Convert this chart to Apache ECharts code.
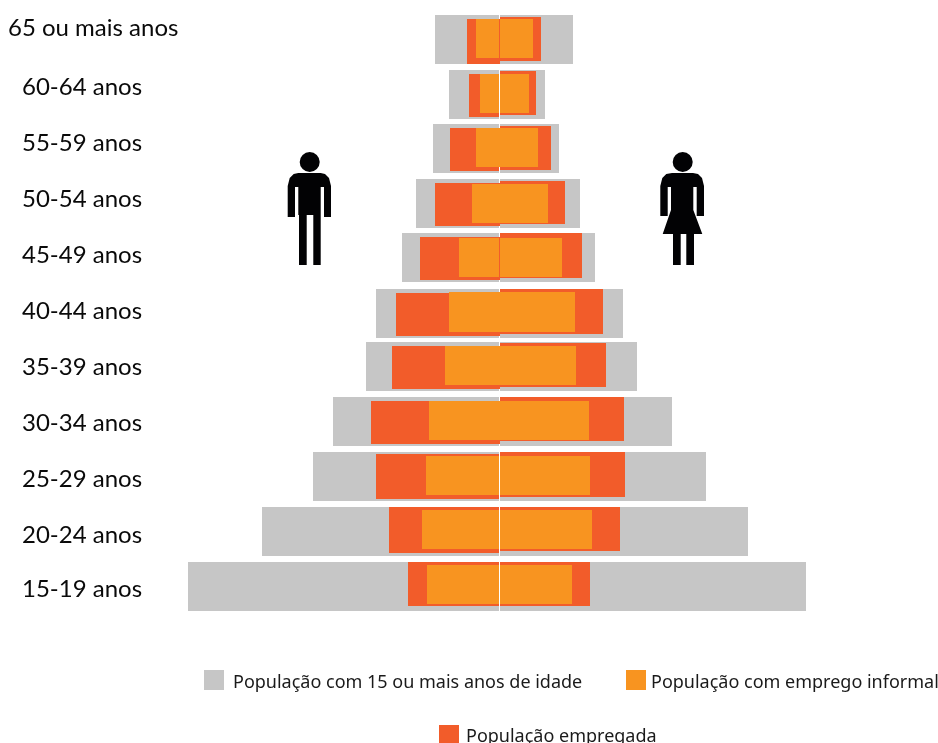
<!DOCTYPE html>
<html>
<head>
<meta charset="utf-8">
<style>html,body{margin:0;padding:0;background:#fff;overflow:hidden}#c{width:938px;height:743px}</style>
<script src="https://cdn.jsdelivr.net/npm/echarts@6/dist/echarts.min.js"></script>
</head>
<body>
<div id="c"></div>
<script>
// ---- data (arbitrary population units) ----
const categories = ['65 ou mais anos','60-64 anos','55-59 anos','50-54 anos','45-49 anos','40-44 anos','35-39 anos','30-34 anos','25-29 anos','20-24 anos','15-19 anos'];
const menPopulation   = [65,51,67,84,98,124,134,167,187,238,312];
const womenPopulation = [73,45,59,80,95,123,137,172,206,248,306];
const menEmployed     = [33,31,50,65,80,104,108,129,124,111,92];
const womenEmployed   = [41,36,51,65,82,103,106,124,125,120,90];
const menInformal     = [24,20,24,28,41,51,55,71,74,78,73];
const womenInformal   = [33,29,38,48,62,75,76,89,90,92,72];
const seriesNames = ['População com 15 ou mais anos de idade','População com emprego informal','População empregada'];

// ---- drawing details (row nudges, not data) ----
const GRAY='#C6C6C6', RED='#F25C2A', ORANGE='#F89420', BLACK='#020204';
const ROW_H = 49;
const rowNudge = [0,.3,-.4,-.1,-.8,.5,-1.2,-.9,-.6,-.3,0];
const menEmpBand = [[4,49],[4,47],[4,47],[4,47],[4,47],[4,47],[4,47],[4,47],[2,47],[0,46],[0,44]];
const womenEmpBand = [[2,46],[1,45],[2,46],[2,45],[0,45],[0,45],[1,45],[0,44],[0,45],[0,44],[0,44]];
const informalBand = [[4,43],[4,43],[4,43],[5,44],[5,44],[3,43],[4,43],[4,43],[4,43],[3,42],[3,42]];
const fullBand = categories.map(()=>[0,ROW_H]);
const empGap = [0,1,1,0,0,0,0,0,1,1,1];
const infGap = [1,1,0,0,1,0,0,0,1,1,1];
const allGap = categories.map(()=>1);
const labelLeft = [8,22,22,22,22,22,22,22,22,22,22];
const labelNudge = [-11.5,-6.5,-5.5,-4,-3,-2,0,1,2,3,3];

function rows(values, side){ return values.map((v,i)=>[side*v, categories[i]]); }
function bars(name, color, values, side, band, gap, z){
  return {
    type:'custom', name, coordinateSystem:'cartesian2d', clip:false, z,
    encode:{x:0,y:1}, itemStyle:{color}, silent:true,
    data: rows(values, side),
    renderItem(params, api){
      const i = api.value(1);
      const end = api.coord([api.value(0), i]);
      const zero = api.coord([0, i]);
      const top = Math.round(end[1] - ROW_H/2 + rowNudge[i]);
      const inner = side < 0 ? zero[0] - gap[i] : zero[0];
      const x0 = Math.min(inner, end[0]), x1 = Math.max(inner, end[0]);
      return {type:'rect',
        shape:{x:x0, y:top+band[i][0], width:x1-x0, height:band[i][1]-band[i][0]},
        style:{fill:color}};
    }
  };
}
const labelSeries = {
  type:'custom', name:'labels', coordinateSystem:'cartesian2d', clip:false, z:9, silent:true,
  encode:{x:0,y:1},
  data: rows(categories.map(()=>0), 1),
  renderItem(params, api){
    const i = api.value(1);
    const p = api.coord([0, i]);
    return {type:'text', style:{text:categories[i], x:labelLeft[i], y:p[1]+labelNudge[i],
      font:'400 24px Lato', fill:'#0a0a0a', textAlign:'left', textVerticalAlign:'middle'}};
  }
};
function legendAt(name, left, top, pad){
  return {show:true, data:[{name, icon:'rect'}], left, top, orient:'horizontal', padding:0,
    itemWidth:20, itemHeight:20, selectedMode:false,
    formatter:'{t|{name}}',
    textStyle:{rich:{t:{fontFamily:'"Noto Sans"', fontSize:18, color:'#1a1a1a', padding:pad}}}};
}
const manPoints = [[298.3,173],[320.7,173],[325,174],[329,178],[331,186],[331,217],[324,217],[324,187],[320.7,187],[320.7,265],[313.3,265],[313.3,215],[306.7,215],[306.7,265],[299,265],[299,215],[298.3,215],[298.3,187],[295,187],[295,217],[287.7,217],[287.7,186],[289.7,178],[293.7,174]];
const womanPoints = [[672,173],[693,173],[698,174],[702,178],[704,186],[704,216],[696.7,216],[696.7,187],[693.3,187],[693.3,210],[702.3,234],[694,234],[694,265],[686.3,265],[686.3,234],[680.7,234],[680.7,265],[673,265],[673,234],[662.7,234],[671,210],[671,187],[667.7,187],[667.7,216],[660.3,216],[660.3,186],[662.3,178],[666.3,174]];

const chart = echarts.init(document.getElementById('c'), null, {renderer:'canvas'});
chart.setOption({
  animation:false,
  backgroundColor:'#fff',
  grid:{left:188, width:618, top:12.15, height:601.7, containLabel:false},
  xAxis:{type:'value', min:-312, max:306, show:false},
  yAxis:{type:'category', data:categories, inverse:true, show:false},
  legend:[
    legendAt(seriesNames[0],204,670,[6,0,0,4]),
    legendAt(seriesNames[1],626,670,[6,0,0,0]),
    legendAt(seriesNames[2],439,725,[4,0,0,2])
  ],
  graphic:[
    {type:'circle', shape:{cx:309.7,cy:162,r:10}, style:{fill:BLACK}},
    {type:'polygon', shape:{points:manPoints}, style:{fill:BLACK}},
    {type:'circle', shape:{cx:682.7,cy:162,r:10}, style:{fill:BLACK}},
    {type:'polygon', shape:{points:womanPoints}, style:{fill:BLACK}}
  ],
  series:[
    bars(seriesNames[0],GRAY,menPopulation,-1,fullBand,allGap,1),
    bars(seriesNames[0],GRAY,womenPopulation,1,fullBand,allGap,1),
    bars(seriesNames[2],RED,menEmployed,-1,menEmpBand,empGap,2),
    bars(seriesNames[2],RED,womenEmployed,1,womenEmpBand,empGap,2),
    bars(seriesNames[1],ORANGE,menInformal,-1,informalBand,infGap,3),
    bars(seriesNames[1],ORANGE,womenInformal,1,informalBand,infGap,3),
    labelSeries
  ]
});
</script>
</body>
</html>
